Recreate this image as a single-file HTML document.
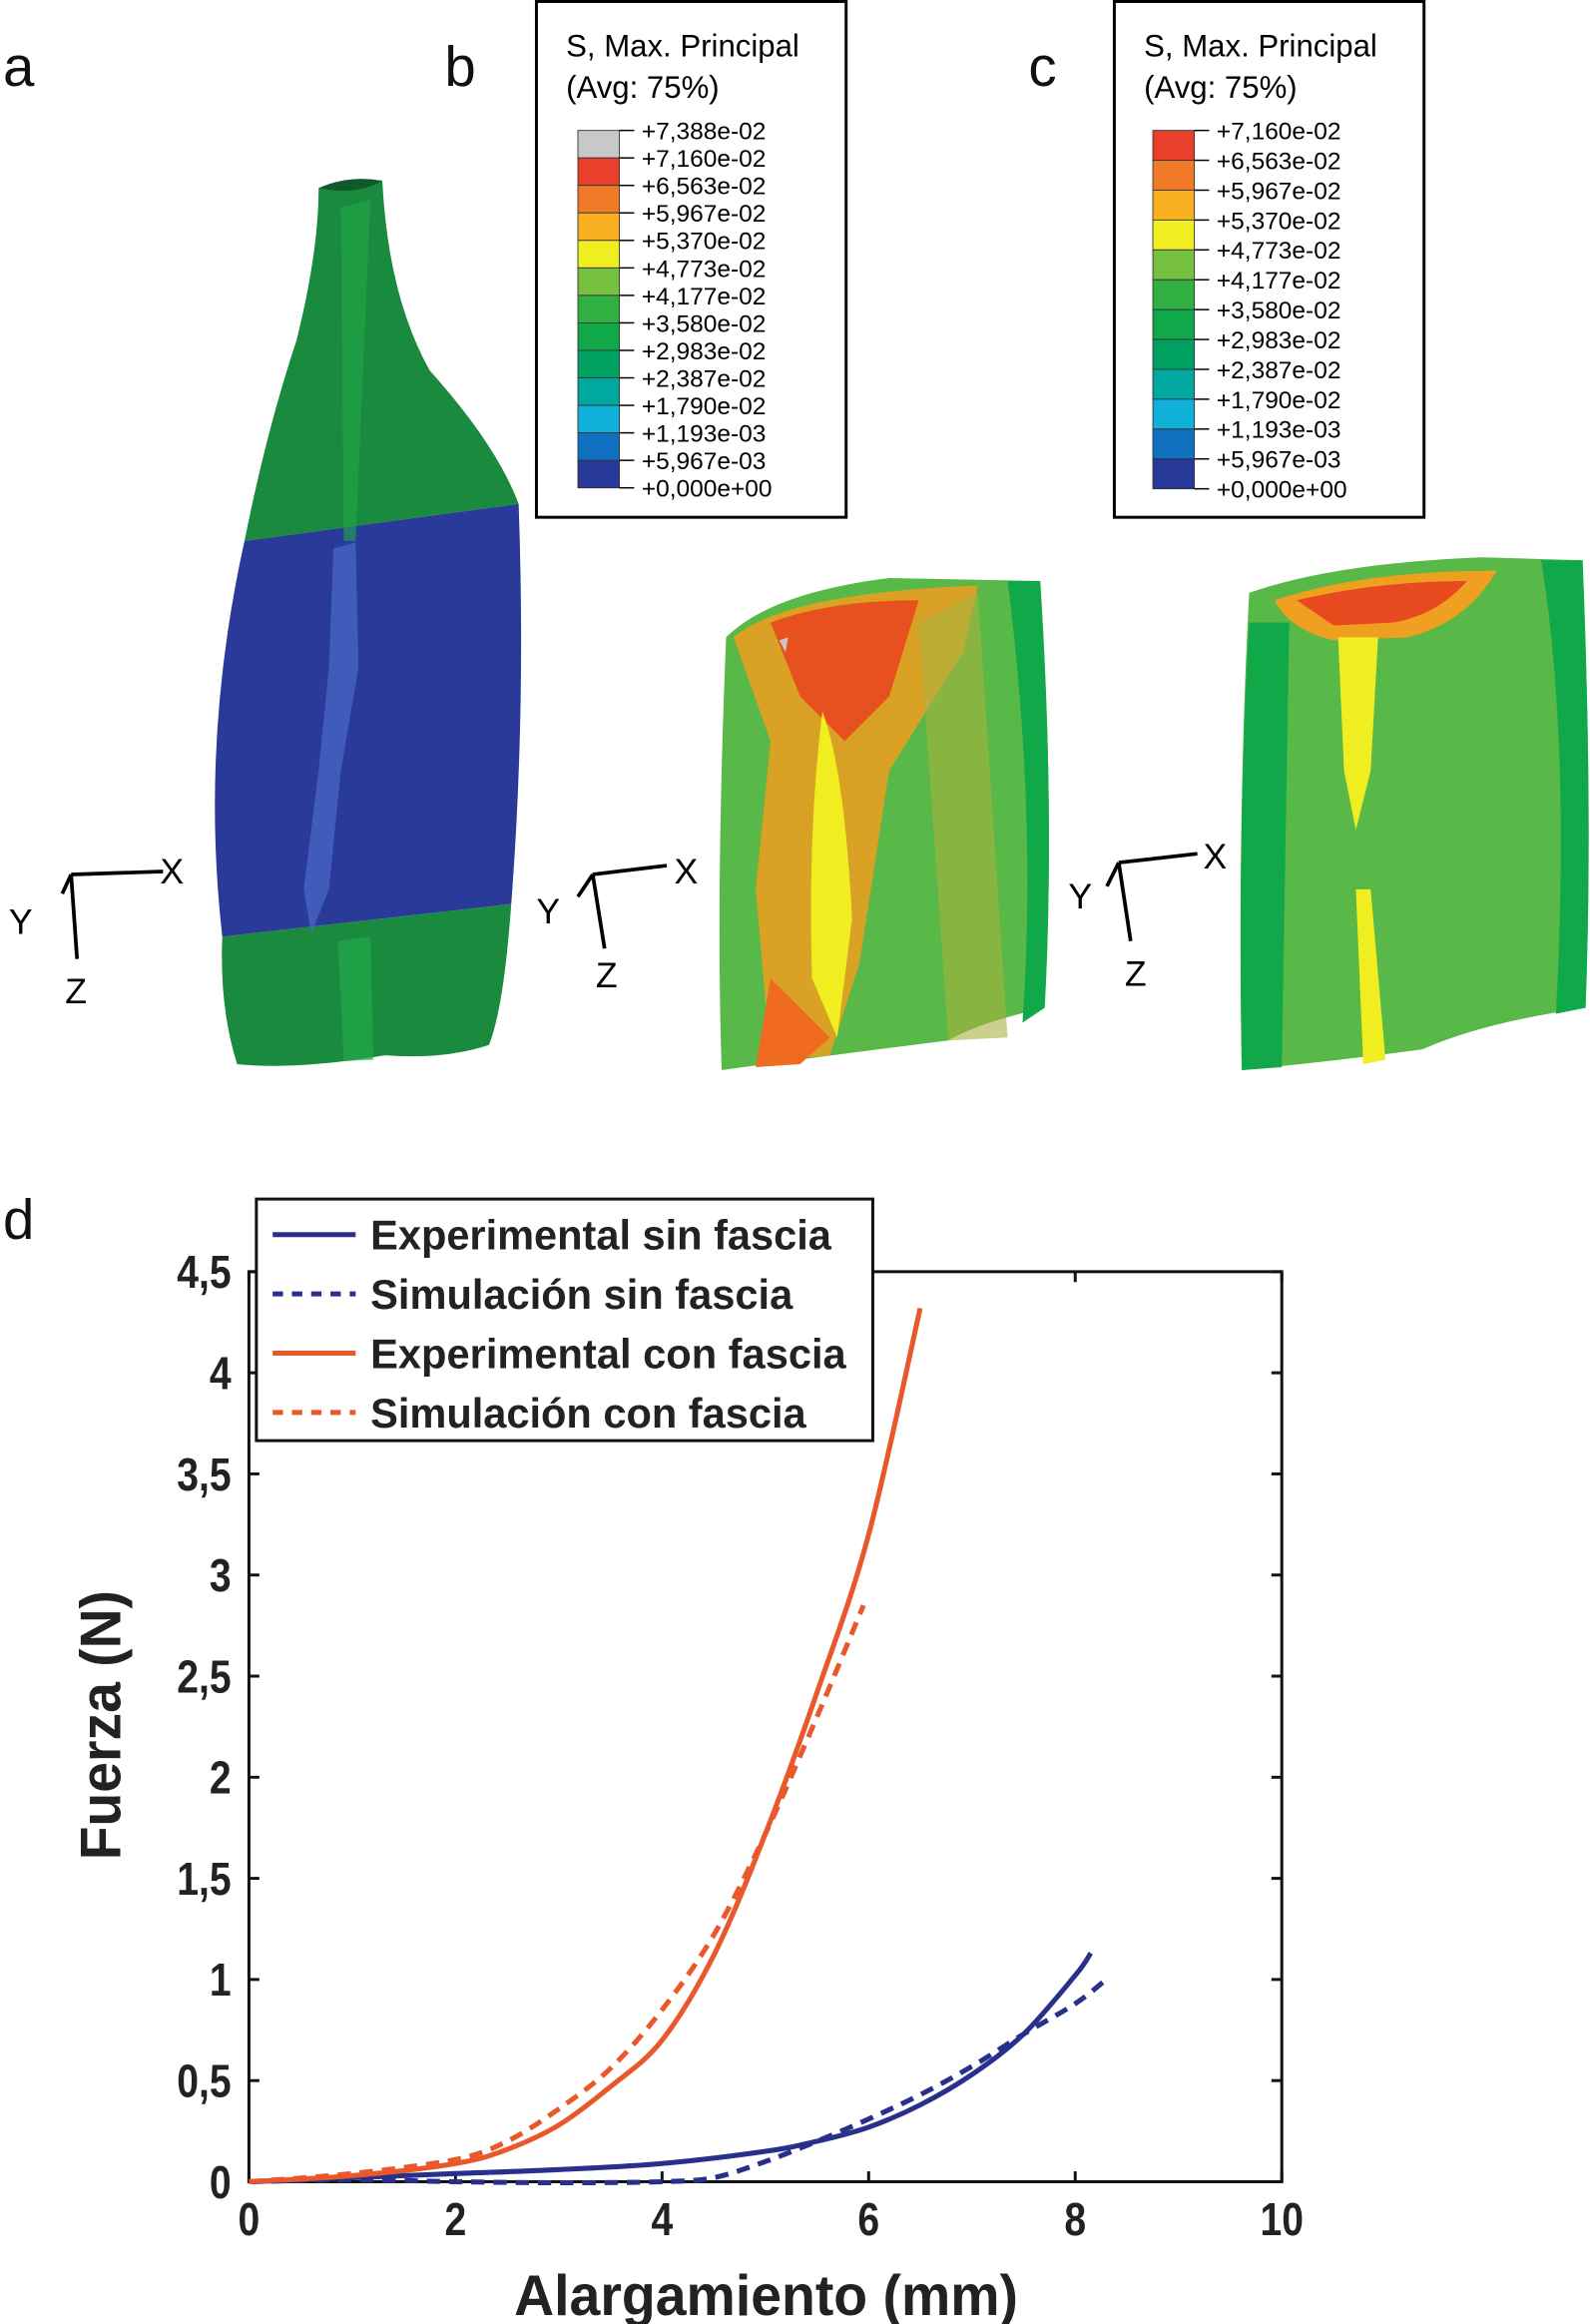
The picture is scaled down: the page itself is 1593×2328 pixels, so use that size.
<!DOCTYPE html>
<html><head><meta charset="utf-8"><style>
html,body{margin:0;padding:0;background:#fff}
svg{display:block}
text{font-family:"Liberation Sans",sans-serif}
.cond{font-family:"Liberation Sans Narrow","Liberation Sans",sans-serif;font-weight:bold}
</style></head><body>
<svg id="fig" width="1593" height="2328" viewBox="0 0 1073 1568" preserveAspectRatio="none" xmlns="http://www.w3.org/2000/svg">
<g font-size="38" fill="#111">
<text x="2" y="58">a</text>
<text x="300" y="58">b</text>
<text x="694" y="58">c</text>
<text x="2" y="836">d</text>
</g>

<g>
<path d="M215,127 Q235,118 258,122 Q262,200 290,250 Q335,300 350,340 L165,365 Q180,290 200,230 Q215,170 215,127Z" fill="#1a8a3e"/>
<path d="M165,365 L350,340 Q355,480 345,610 L150,632 Q135,500 165,365Z" fill="#2a3a98"/>
<path d="M150,632 L345,610 Q340,680 330,705 Q300,715 260,712 Q200,722 160,718 Q148,680 150,632Z" fill="#1a8a3e"/>
<path d="M225,370 L240,366 L242,450 L230,520 L222,600 L210,630 L205,600 L215,520 L222,450Z" fill="#4a6ac8" opacity="0.7"/>
<path d="M230,140 L250,135 L245,250 L240,365 L232,365Z" fill="#22a84a" opacity="0.6"/>
<path d="M228,635 L250,632 L252,715 L232,716Z" fill="#22a84a" opacity="0.7"/>
<path d="M215,127 Q235,118 258,122 Q240,132 215,127Z" fill="#0f5a28"/>
</g>
<g>
<path d="M490,430 Q520,400 600,390 L702,392 Q712,550 705,680 Q660,690 640,702 Q560,712 487,722 Q483,600 490,430Z" fill="#58b848"/>
<path d="M680,392 L702,392 Q712,550 705,680 L690,690 Q700,550 680,392Z" fill="#10a848"/>
<path d="M495,430 Q530,400 660,395 L650,440 L600,520 L580,650 L560,712 L520,716 L510,600 L520,500 Z" fill="#e8a020" opacity="0.9"/>
<path d="M520,420 Q560,405 620,405 L600,470 L570,500 L540,470Z" fill="#e85020"/>
<path d="M555,480 Q570,520 575,620 L565,700 L548,660 Q545,560 555,480Z" fill="#f0ee20"/>
<path d="M520,660 L560,700 L540,718 L510,720Z" fill="#f06a20"/>
<path d="M620,420 L660,400 L680,700 L640,702 L630,560Z" fill="#a8b040" opacity="0.6"/>
<path d="M526,432 L532,430 L530,440Z" fill="#c8c8c8"/>
</g>
<g>
<path d="M843,400 Q900,380 1000,376 L1068,378 Q1075,550 1070,680 Q1000,690 960,708 Q900,716 838,722 Q835,550 843,400Z" fill="#58b848"/>
<path d="M843,420 L870,420 L865,720 L838,722 Q835,560 843,420Z" fill="#10a848"/>
<path d="M1040,378 L1068,378 Q1075,550 1070,680 L1050,684 Q1060,500 1040,378Z" fill="#10a848"/>
<path d="M860,405 Q920,385 1010,385 Q990,420 950,430 L900,432 Q870,425 860,405Z" fill="#f0a020"/>
<path d="M875,405 Q930,392 990,392 Q970,415 940,420 L900,422Z" fill="#e84a20"/>
<path d="M903,430 L930,430 L925,520 L915,560 L907,520Z" fill="#f0ee20"/>
<path d="M915,600 L925,600 L935,715 L920,718Z" fill="#f0ee20"/>
</g>
<g stroke="#000" stroke-width="2.5" fill="none">
<path d="M48,590 L110,588 M48,590 L42,603 M48,590 L52,647"/>
<path d="M400,590 L450,584 M400,590 L390,605 M400,590 L408,640"/>
<path d="M755,582 L808,576 M755,582 L747,598 M755,582 L763,635"/>
</g>
<g font-size="24" fill="#000">
<text x="108" y="596">X</text><text x="6" y="630">Y</text><text x="44" y="677">Z</text>
<text x="455" y="596">X</text><text x="362" y="623">Y</text><text x="402" y="666">Z</text>
<text x="812" y="586">X</text><text x="721" y="613">Y</text><text x="759" y="665">Z</text>
</g>

<g id="legb"></g>
<g id="legc"></g>

<g id="chart"></g>
</svg>
<script>
const NS='http://www.w3.org/2000/svg';
function mk(p,t,a){const e=document.createElementNS(NS,t);for(const k in a)e.setAttribute(k,a[k]);p.appendChild(e);return e;}
const colorsB=['#c8c8c8','#e8402a','#f07a28','#f8b020','#f0ee20','#78c040','#30b040','#10a848','#00a060','#00a8a0','#10b0d8','#1070c0','#283898'];
const labelsB=['+7,388e-02','+7,160e-02','+6,563e-02','+5,967e-02','+5,370e-02','+4,773e-02','+4,177e-02','+3,580e-02','+2,983e-02','+2,387e-02','+1,790e-02','+1,193e-03','+5,967e-03','+0,000e+00'];
const colorsC=colorsB.slice(1);
const labelsC=labelsB.slice(1);
function legend(id,x0,w,bx,top,step,cols,labs){
  const g=document.getElementById(id);
  const r=mk(g,'rect',{x:x0,y:1,width:w,height:348,fill:'#fff',stroke:'#000','stroke-width':2});
  
  const t1=mk(g,'text',{x:x0+20,y:38,'font-size':21});t1.textContent='S, Max. Principal';
  
  const t2=mk(g,'text',{x:x0+20,y:66,'font-size':21});t2.textContent='(Avg: 75%)';
  
  cols.forEach((c,i)=>{const s=mk(g,'rect',{x:bx,y:top+i*step,width:28,height:step,fill:c,stroke:'#333','stroke-width':0.6});
    });
  labs.forEach((l,i)=>{const y=top+i*step;mk(g,'line',{x1:bx+28,x2:bx+38,y1:y,y2:y,stroke:'#000','stroke-width':1});
    const t=mk(g,'text',{x:bx+43,y:y+6,'font-size':16.5});t.textContent=l;
    });
}
legend('legb',362,209,390,88,18.55,colorsB,labelsB);
legend('legc',752,209,778,88,20.15,colorsC,labelsC);

const xTicks=[0,2,4,6,8,10];
const yTicks=[0,0.5,1,1.5,2,2.5,3,3.5,4,4.5];
const yTickLabels=['0','0,5','1','1,5','2','2,5','3','3,5','4','4,5'];
const expConX=[0,1,2,2.5,3,3.5,4,4.5,5,5.5,6,6.5];
const expConY=[0,0.03,0.09,0.16,0.28,0.47,0.7,1.12,1.72,2.42,3.2,4.32];
const simConX=[0,1,2,2.5,3,3.5,4,4.5,5,5.5,5.95];
const simConY=[0,0.04,0.11,0.2,0.36,0.56,0.85,1.22,1.72,2.3,2.85];
const expSinX=[0,1,2,3,4,5,5.5,6,6.5,7,7.5,8,8.15];
const expSinY=[0,0.02,0.04,0.06,0.09,0.15,0.2,0.27,0.38,0.53,0.73,1.02,1.13];
const simSinX=[0,1,2,3,4,4.5,5,5.5,6,6.5,7,7.5,8,8.3];
const simSinY=[0,0.01,0,-0.005,0,0.02,0.1,0.2,0.31,0.43,0.57,0.73,0.88,1.0];
const PX0=168,PX1=865,PY0=1472,PY1=858;
const sx=v=>PX0+(v-0)/(10-0)*(PX1-PX0);
const sy=v=>PY0-(v-0)/(4.5-0)*(PY0-PY1);
const ch=document.getElementById('chart');
const frame=mk(ch,'rect',{x:PX0,y:PY1,width:PX1-PX0,height:PY0-PY1,fill:'none',stroke:'#111','stroke-width':2});

xTicks.forEach(v=>{const x=sx(v);
  mk(ch,'line',{x1:x,x2:x,y1:PY0,y2:PY0-7,stroke:'#111','stroke-width':2});
  mk(ch,'line',{x1:x,x2:x,y1:PY1,y2:PY1+7,stroke:'#111','stroke-width':2});
  const t=mk(ch,'text',{x:x,y:PY0+36,'font-size':31,'text-anchor':'middle',class:'cond',fill:'#222',transform:`translate(${x},0) scale(0.85,1) translate(${-x},0)`});t.textContent=v;
  });
yTicks.forEach((v,i)=>{const y=sy(v);
  mk(ch,'line',{x1:PX0,x2:PX0+7,y1:y,y2:y,stroke:'#111','stroke-width':2});
  mk(ch,'line',{x1:PX1,x2:PX1-7,y1:y,y2:y,stroke:'#111','stroke-width':2});
  const X=PX0-12;
  const t=mk(ch,'text',{x:X,y:y+11,'font-size':31,'text-anchor':'end',class:'cond',fill:'#222',transform:`translate(${X},0) scale(0.85,1) translate(${-X},0)`});t.textContent=yTickLabels[i];
  });
const xt=mk(ch,'text',{x:347,y:1562,'font-size':39,class:'cond',fill:'#222',textLength:340,lengthAdjust:'spacingAndGlyphs'});xt.textContent='Alargamiento (mm)';

const yt=mk(ch,'text',{x:-90,y:0,'font-size':39,class:'cond',fill:'#222',textLength:182,lengthAdjust:'spacingAndGlyphs',transform:'translate(81,1165) rotate(-90)'});yt.textContent='Fuerza (N)';

function line(xs,ys,col,dash,name){
  const P=xs.map((x,i)=>[sx(x),sy(ys[i])]);
  let d='M'+P[0][0].toFixed(1)+','+P[0][1].toFixed(1);
  for(let i=0;i<P.length-1;i++){
    const p0=P[Math.max(i-1,0)],p1=P[i],p2=P[i+1],p3=P[Math.min(i+2,P.length-1)];
    const c1=[p1[0]+(p2[0]-p0[0])/6,p1[1]+(p2[1]-p0[1])/6];
    const c2=[p2[0]-(p3[0]-p1[0])/6,p2[1]-(p3[1]-p1[1])/6];
    d+=` C${c1[0].toFixed(1)},${c1[1].toFixed(1)} ${c2[0].toFixed(1)},${c2[1].toFixed(1)} ${p2[0].toFixed(1)},${p2[1].toFixed(1)}`;
  }
  const p=mk(ch,'path',{d:d,fill:'none',stroke:col,'stroke-width':3.4,'stroke-dasharray':dash||'none','stroke-linejoin':'round'});
  
}
line(expSinX,expSinY,'#28308c',null,'line-experimental-sin-fascia');
line(simSinX,simSinY,'#28308c','9,6','line-simulacion-sin-fascia');
line(expConX,expConY,'#e8582a',null,'line-experimental-con-fascia');
line(simConX,simConY,'#e8582a','9,6','line-simulacion-con-fascia');
const lg=mk(ch,'g',{});

mk(lg,'rect',{x:173,y:809,width:416,height:163,fill:'#fff',stroke:'#111','stroke-width':2});
const ents=[['Experimental sin fascia','#28308c',null,311],['Simulación sin fascia','#28308c','7,6',285],['Experimental con fascia','#e8582a',null,321],['Simulación con fascia','#e8582a','7,6',294]];
ents.forEach((e,i)=>{const y=833+i*40;
  mk(lg,'line',{x1:184,x2:240,y1:y,y2:y,stroke:e[1],'stroke-width':3.4,'stroke-dasharray':e[2]||'none'});
  const t=mk(lg,'text',{x:250,y:y+10,'font-size':28,class:'cond',fill:'#222',textLength:e[3],lengthAdjust:'spacingAndGlyphs'});t.textContent=e[0];
  });
</script>
</body></html>
